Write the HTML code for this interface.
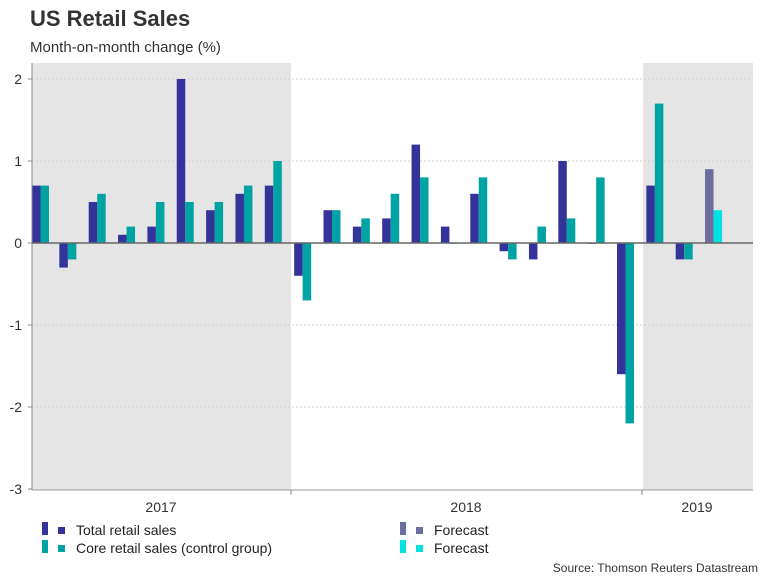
<!DOCTYPE html>
<html><head><meta charset="utf-8"><style>
body{margin:0;background:#fff;width:768px;height:576px;overflow:hidden;font-family:"Liberation Sans",sans-serif}
</style></head><body>
<svg width="768" height="576" xmlns="http://www.w3.org/2000/svg" font-family="Liberation Sans, sans-serif">
<text x="30" y="26" font-size="22" font-weight="bold" fill="#333">US Retail Sales</text>
<text x="30" y="52" font-size="15" fill="#333">Month-on-month change (%)</text>
<g id="shade"></g><g id="grid"></g><g id="bars"></g><g id="axes"></g>
<g font-size="14" fill="#222">
<rect x="42" y="522" width="6" height="13" fill="#333399"/><rect x="58" y="527" width="7" height="7" fill="#333399"/>
<text x="76" y="535">Total retail sales</text>
<rect x="42" y="540" width="6" height="13" fill="#00a3a3"/><rect x="58" y="545" width="7" height="7" fill="#00a3a3"/>
<text x="76" y="553">Core retail sales (control group)</text>
<rect x="400" y="522" width="6" height="13" fill="#6e6e9e"/><rect x="416" y="527" width="7" height="7" fill="#6e6e9e"/>
<text x="434" y="535">Forecast</text>
<rect x="400" y="540" width="6" height="13" fill="#00e1e1"/><rect x="416" y="545" width="7" height="7" fill="#00e1e1"/>
<text x="434" y="553">Forecast</text>
</g>
<text x="758" y="572" font-size="12" fill="#333" text-anchor="end">Source: Thomson Reuters Datastream</text>
</svg>
<script>
const totalSales=[0.7,-0.3,0.5,0.1,0.2,2.0,0.4,0.6,0.7,-0.4,0.4,0.2,0.3,1.2,0.2,0.6,-0.1,-0.2,1.0,0.0,-1.6,0.7,-0.2,null];
const coreSales=[0.7,-0.2,0.6,0.2,0.5,0.5,0.5,0.7,1.0,-0.7,0.4,0.3,0.6,0.8,0.0,0.8,-0.2,0.2,0.3,0.8,-2.2,1.7,-0.2,null];
const forecastTotal=[null,null,null,null,null,null,null,null,null,null,null,null,null,null,null,null,null,null,null,null,null,null,null,0.9];
const forecastCore=[null,null,null,null,null,null,null,null,null,null,null,null,null,null,null,null,null,null,null,null,null,null,null,0.4];
const yTicks=[2,1,0,-1,-2,-3];
const years=["2017","2018","2019"];
const yearStart=[0,9,21];
const yearEnd=[9,21,24.9];
const NS="http://www.w3.org/2000/svg";
const X0=32,STEP=29.35,BW=8.5,PR=753;
const y=v=>243-v*82;
const xi=i=>X0+i*STEP;
const xb=i=>i<=0?X0:xi(i)-2;
function mk(p,tag,a){const e=document.createElementNS(NS,tag);for(const k in a)e.setAttribute(k,a[k]);document.getElementById(p).appendChild(e);return e;}
// shading 2017 & 2019
let s=mk('shade','rect',{x:X0,y:63,width:291-X0,height:490-63,fill:'#e5e5e5'});


s=mk('shade','rect',{x:643,y:63,width:PR-643,height:490-63,fill:'#e5e5e5'});


yTicks.forEach(t=>{
  if(t!==0&&t!==-3){const g=mk('grid','line',{x1:X0,x2:PR,y1:y(t),y2:y(t),stroke:'#cfcfcf','stroke-dasharray':'2,2'});
  
  }
  const l=mk('axes','text',{x:22,y:y(t)+5,'font-size':14,fill:'#333','text-anchor':'end'});l.textContent=t;
  
  
  const tk=mk('axes','line',{x1:X0-4,x2:X0,y1:y(t),y2:y(t),stroke:'#888'});
  
  
});
function bar(v,x,c,name){if(v===null)return;const top=Math.min(y(v),y(0)),h=Math.max(Math.abs(y(v)-y(0)),0.8);
  const r=mk('bars','rect',{x:x,y:top,width:BW,height:h,fill:c});
  
  }
totalSales.forEach((v,i)=>bar(v,xb(i),'#333399','bar-total'));
coreSales.forEach((v,i)=>bar(v,xb(i)+BW,'#00a3a3','bar-core'));
forecastTotal.forEach((v,i)=>bar(v,xb(i),'#6e6e9e','bar-forecast-total'));
forecastCore.forEach((v,i)=>bar(v,xb(i)+BW,'#00e1e1','bar-forecast-core'));
let a=mk('axes','line',{x1:X0,x2:X0,y1:63,y2:490,stroke:'#888'});


a=mk('axes','line',{x1:X0,x2:PR,y1:y(0),y2:y(0),stroke:'#666','stroke-width':1.5});


a=mk('axes','line',{x1:X0,x2:PR,y1:490,y2:490,stroke:'#999'});


[291,642].forEach(x=>{const t=mk('axes','line',{x1:x,x2:x,y1:490,y2:495,stroke:'#888'});
  
  });
const yearCenters=[161,466,697];
years.forEach((yr,k)=>{const t=mk('axes','text',{x:yearCenters[k],y:512,'font-size':14,fill:'#333','text-anchor':'middle'});t.textContent=yr;
  
  });
</script>
</body></html>
